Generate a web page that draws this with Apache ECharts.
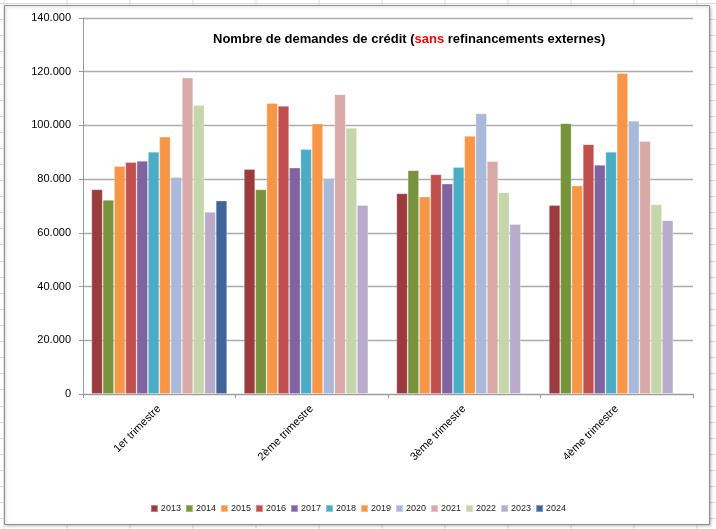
<!DOCTYPE html>
<html><head><meta charset="utf-8">
<script src="https://cdn.jsdelivr.net/npm/echarts@6/dist/echarts.min.js"></script>
<style>html,body{margin:0;padding:0;background:#fff}#c{width:716px;height:529px}</style>
</head><body><div id="c"></div>
<script>
const categories = ['1er trimestre','2ème trimestre','3ème trimestre','4ème trimestre'];
const years = ['2013','2014','2015','2016','2017','2018','2019','2020','2021','2022','2023','2024'];
const v2013 = [76200, 83700, 74700, 70300];
const v2014 = [72300, 76200, 83300, 100800];
const v2015 = [84900, 108300, 73500, 77600];
const v2016 = [86300, 107300, 81800, 93000];
const v2017 = [86800, 84300, 78300, 85300];
const v2018 = [90200, 91200, 84500, 90200];
const v2019 = [95800, 100700, 96100, 119500];
const v2020 = [80800, 80400, 104500, 101700];
const v2021 = [117800, 111600, 86700, 94200];
const v2022 = [107600, 99100, 75100, 70600];
const v2023 = [67800, 70300, 63300, 64700];
const v2024 = [72000, null, null, null];
const yTicks = [0, 20000, 40000, 60000, 80000, 100000, 120000, 140000];

const seriesValues = [v2013,v2014,v2015,v2016,v2017,v2018,v2019,v2020,v2021,v2022,v2023,v2024];
const colors = ['#9B3B3B','#77933C','#F79646','#C0504D','#8064A2','#4BACC6','#F79646','#A9B9DA','#D9A9A8','#C5D6AA','#B8ABCB','#3E6699'];

const chart = echarts.init(document.getElementById('c'), null, {renderer:'canvas'});

// Excel sheet background grid (decoration)
const bg = [];
for (let x = 4; x < 716; x += 63) bg.push({type:'line', silent:true, z:-10, shape:{x1:x,y1:0,x2:x,y2:529}, style:{stroke:'#dadada',lineWidth:1}});
for (let y = 3; y < 529; y += 16.1) bg.push({type:'line', silent:true, z:-10, shape:{x1:0,y1:Math.round(y)+0.5,x2:716,y2:Math.round(y)+0.5}, style:{stroke:'#dadada',lineWidth:1}});
bg.push({type:'rect', silent:true, z:-5, shape:{x:4.5,y:5.5,width:705,height:519}, style:{fill:'#fff',stroke:'#8f8f8f',lineWidth:1, shadowBlur:3, shadowColor:'rgba(0,0,0,0.25)', shadowOffsetX:1, shadowOffsetY:1}});

const fmt = v => String(v).replace(/\B(?=(\d{3})+(?!\d))/g, '.');

chart.setOption({
  animation:false,
  color: colors,
  textStyle:{fontFamily:'Liberation Sans'},
  graphic: bg,
  title:{
    text:'{b|Nombre de demandes de crédit (}{r|sans}{b| refinancements externes)}',
    left:208, top:28,
    textStyle:{rich:{
      b:{fontFamily:'Liberation Sans',fontWeight:'bold',fontSize:13,color:'#000'},
      r:{fontFamily:'Liberation Sans',fontWeight:'bold',fontSize:13,color:'#FF0000'}
    }}
  },
  legend:{
    data: years,
    left:'center', top:499,
    itemWidth:7, itemHeight:7, itemGap:4,
    icon:'rect',
    textStyle:{fontSize:9, color:'#222', padding:[0,0,0,-2]}
  },
  grid:{left:83, right:23, top:18, bottom:135, containLabel:false},
  xAxis:{
    type:'category', data: categories,
    axisLine:{lineStyle:{color:'#999', width:1}},
    axisTick:{show:true, length:4, alignWithLabel:false, lineStyle:{color:'#999'}},
    axisLabel:{rotate:45, fontSize:11, color:'#000', margin:13, interval:0}
  },
  yAxis:{
    type:'value', min:yTicks[0], max:yTicks[yTicks.length-1], interval:yTicks[1]-yTicks[0],
    axisLine:{show:true, lineStyle:{color:'#999', width:1}},
    axisTick:{show:true, length:4, lineStyle:{color:'#999'}},
    axisLabel:{fontSize:11, color:'#000', margin:12, formatter: fmt},
    splitLine:{lineStyle:{color:'#ababab', width:1.3}}
  },
  series: years.map((y,i)=>({
    name:y, type:'bar', data: seriesValues[i],
    barGap:'0%', barCategoryGap:'11%',
    itemStyle:{color:colors[i], borderColor:'rgba(255,255,255,0.35)', borderWidth:0.8}
  }))
});
</script></body></html>
